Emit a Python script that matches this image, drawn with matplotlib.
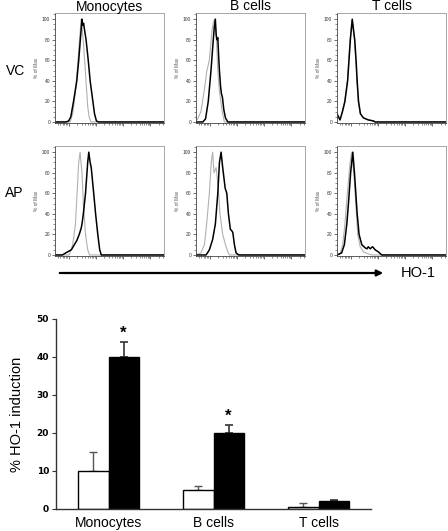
import numpy as np
import matplotlib
matplotlib.use("Agg")
import matplotlib.pyplot as plt
from matplotlib.ticker import FixedLocator, MultipleLocator, NullFormatter

plt.rcParams['font.family'] = ['Liberation Sans', 'DejaVu Sans']

# histogram data: x in log10 fluorescence units, y in % of max
cellTypes = ["Monocytes", "B cells", "T cells"]
treatments = ["VC", "AP"]

monoVcBlackX = [-0.5, -0.1, 0.0, 0.08, 0.18, 0.30, 0.37, 0.43, 0.49, 0.52, 0.55, 0.57, 0.64, 0.72, 0.79, 0.89, 0.95, 1.02, 1.1, 3.5]
monoVcBlackY = [0, 0, 1, 5, 20, 40, 60, 80, 100, 94, 96, 92, 80, 60, 40, 20, 8, 1, 0, 0]
monoVcGrayX = [-0.5, 0.05, 0.15, 0.25, 0.33, 0.40, 0.46, 0.50, 0.55, 0.60, 0.65, 0.70, 0.76, 0.82, 3.5]
monoVcGrayY = [0, 0, 8, 30, 55, 80, 100, 90, 75, 55, 35, 15, 4, 0, 0]

bVcBlackX = [-0.5, -0.25, -0.15, -0.05, 0.05, 0.12, 0.17, 0.21, 0.24, 0.27, 0.30, 0.33, 0.36, 0.40, 0.43, 0.47, 0.52, 0.58, 0.67, 3.5]
bVcBlackY = [0, 0, 3, 20, 50, 75, 92, 100, 85, 80, 82, 65, 50, 35, 28, 24, 12, 4, 0, 0]
bVcGrayX = [-0.5, -0.44, -0.32, -0.2, -0.1, -0.01, 0.09, 0.14, 0.18, 0.22, 0.26, 0.30, 0.36, 0.46, 0.54, 3.5]
bVcGrayY = [1, 3, 10, 30, 50, 60, 90, 97, 100, 90, 75, 50, 30, 10, 0, 0]

tVcBlackX = [-0.5, -0.39, -0.30, -0.21, -0.11, -0.06, -0.01, 0.06, 0.15, 0.20, 0.24, 0.29, 0.36, 0.47, 0.65, 0.84, 0.90, 3.5]
tVcBlackY = [8, 2, 10, 20, 40, 60, 80, 100, 80, 60, 40, 20, 8, 4, 2, 1, 0, 0]
tVcGrayX = [-0.5, -0.39, -0.31, -0.22, -0.12, -0.07, -0.02, 0.05, 0.14, 0.19, 0.23, 0.28, 0.35, 0.46, 0.64, 0.82, 0.88, 3.5]
tVcGrayY = [7, 2, 10, 20, 40, 60, 80, 99, 80, 60, 40, 20, 8, 4, 2, 1, 0, 0]

monoApBlackX = [-0.5, -0.23, -0.04, 0.1, 0.21, 0.30, 0.39, 0.46, 0.49, 0.54, 0.62, 0.70, 0.74, 0.79, 0.83, 0.92, 0.99, 1.07, 1.14, 1.2, 3.5]
monoApBlackY = [0, 0, 3, 5, 10, 14, 20, 26, 30, 40, 60, 90, 100, 90, 85, 60, 40, 20, 5, 0, 0]
monoApGrayX = [-0.5, 0.02, 0.15, 0.25, 0.31, 0.37, 0.42, 0.49, 0.54, 0.62, 0.70, 0.77, 3.5]
monoApGrayY = [0, 0, 10, 30, 60, 90, 100, 80, 50, 20, 5, 0, 0]

bApBlackX = [-0.5, -0.13, -0.01, 0.11, 0.21, 0.30, 0.36, 0.42, 0.48, 0.57, 0.63, 0.69, 0.76, 0.80, 0.85, 0.91, 0.97, 1.07, 3.5]
bApBlackY = [0, 0, 5, 15, 30, 60, 90, 100, 85, 65, 60, 40, 25, 24, 22, 10, 2, 0, 0]
bApGrayX = [-0.5, -0.32, -0.19, -0.11, -0.01, 0.06, 0.11, 0.16, 0.24, 0.32, 0.38, 0.48, 0.58, 0.67, 0.73, 3.5]
bApGrayY = [0, 2, 10, 30, 60, 90, 100, 80, 85, 65, 40, 20, 10, 3, 0, 0]

tApBlackX = [-0.5, -0.33, -0.23, -0.14, -0.08, 0.0, 0.08, 0.14, 0.19, 0.24, 0.31, 0.41, 0.53, 0.60, 0.65, 0.72, 0.80, 0.84, 0.90, 1.02, 1.14, 3.5]
tApBlackY = [0, 2, 10, 30, 50, 80, 100, 80, 60, 40, 20, 10, 7, 6, 8, 6, 8, 7, 5, 3, 0, 0]
tApGrayX = [-0.5, -0.39, -0.29, -0.21, -0.12, -0.02, 0.04, 0.13, 0.19, 0.26, 0.35, 0.47, 0.65, 0.78, 3.5]
tApGrayY = [0, 1, 10, 30, 60, 90, 100, 75, 50, 20, 8, 3, 1, 0, 0]

histData = {
    ("VC", 0): (monoVcBlackX, monoVcBlackY, monoVcGrayX, monoVcGrayY),
    ("VC", 1): (bVcBlackX, bVcBlackY, bVcGrayX, bVcGrayY),
    ("VC", 2): (tVcBlackX, tVcBlackY, tVcGrayX, tVcGrayY),
    ("AP", 0): (monoApBlackX, monoApBlackY, monoApGrayX, monoApGrayY),
    ("AP", 1): (bApBlackX, bApBlackY, bApGrayX, bApGrayY),
    ("AP", 2): (tApBlackX, tApBlackY, tApGrayX, tApGrayY),
}

# bar chart data
barCategories = ["Monocytes", "B cells", "T cells"]
vcValues = [10, 5, 0.6]
vcErrors = [5, 1, 1.0]
apValues = [40, 20, 2.0]
apErrors = [4, 2, 0.5]
significant = [True, True, False]

W, H = 448, 531
fig = plt.figure(figsize=(W / 100, H / 100), dpi=100)


def pxAxes(left, top, right, bottom):
    return fig.add_axes([left / W, 1 - bottom / H, (right - left) / W, (bottom - top) / H])


colLeft = [55, 196, 337]
colWidth = 109
rowTop = [13, 146]
rowHeight = 110

majorX = [0, 1, 2, 3]
minorX = [d + np.log10(k) for d in [-1, 0, 1, 2, 3] for k in range(2, 10)]
minorX = [m for m in minorX if -0.5 < m < 3.5]

for r, treat in enumerate(treatments):
    for c in range(3):
        ax = pxAxes(colLeft[c], rowTop[r], colLeft[c] + colWidth, rowTop[r] + rowHeight)
        bx, by, gx, gy = histData[(treat, c)]
        ax.plot(gx, gy, color="#b0b0b0", lw=0.8)
        ax.plot(bx, by, color="black", lw=1.1)
        ax.set_xlim(-0.5, 3.5)
        ax.set_ylim(-1, 106)
        ax.xaxis.set_major_locator(FixedLocator(majorX))
        ax.xaxis.set_minor_locator(FixedLocator(minorX))
        ax.xaxis.set_major_formatter(NullFormatter())
        ax.set_yticks([0, 20, 40, 60, 80, 100])
        ax.yaxis.set_minor_locator(MultipleLocator(5))
        ax.tick_params(axis="both", which="major", length=2.5, width=0.5, color="#333333",
                       labelsize=3.5, pad=1, labelcolor="#333333")
        ax.tick_params(axis="both", which="minor", length=1.2, width=0.4, color="#333333")
        ax.set_ylabel("% of Max", fontsize=3.5, color="#555555", labelpad=2)
        for side in ["top", "right"]:
            ax.spines[side].set_color("#999999")
        for side in ["left", "bottom"]:
            ax.spines[side].set_color("#444444")
        for s in ax.spines.values():
            s.set_linewidth(0.6)
        if r == 0:
            fig.text((colLeft[c] + colWidth / 2) / W, 1 - 6.5 / H, cellTypes[c],
                     fontsize=10, ha="center", va="center")

fig.text(16 / W, 1 - 71 / H, "VC", fontsize=10, ha="center", va="center")
fig.text(14 / W, 1 - 193 / H, "AP", fontsize=10, ha="center", va="center")

# HO-1 arrow
fig.add_artist(matplotlib.patches.FancyArrowPatch(
    (57 / W, 1 - 273 / H), (386 / W, 1 - 273 / H), transform=fig.transFigure,
    arrowstyle="-|>", mutation_scale=9, lw=1.6, color="black"))
fig.text(401 / W, 1 - 273 / H, "HO-1", fontsize=10.5, ha="left", va="center")

# bar chart
bax = pxAxes(56, 319, 371, 509)
pos = np.arange(len(barCategories))
bw = 0.286
bax.bar(pos - bw / 2, vcValues, bw, color="white", edgecolor="black", lw=1.0, zorder=2)
bax.bar(pos + bw / 2, apValues, bw, color="black", edgecolor="black", lw=1.0, zorder=2)
bax.errorbar(pos - bw / 2, vcValues, yerr=[np.zeros(3), vcErrors], fmt="none",
             ecolor="#555555", elinewidth=1.0, capsize=3, capthick=1.0, zorder=1)
bax.errorbar(pos + bw / 2, apValues, yerr=[np.zeros(3), apErrors], fmt="none",
             ecolor="#333333", elinewidth=1.2, capsize=3, capthick=1.2, zorder=1)
for i in range(3):
    if significant[i]:
        bax.annotate("*", (pos[i] + bw / 2, apValues[i] + apErrors[i]), xytext=(0, 1),
                     textcoords="offset points", ha="center", va="bottom",
                     fontsize=12, fontweight="bold")
bax.set_xlim(-0.5, 2.5)
bax.set_ylim(0, 50)
bax.set_yticks([0, 10, 20, 30, 40, 50])
bax.set_xticks(pos)
bax.set_xticklabels(barCategories, fontsize=10)
bax.tick_params(axis="x", length=0, pad=5)
bax.tick_params(axis="y", length=3, width=0.8, color="#333333", pad=2)
for lab in bax.get_yticklabels():
    lab.set_fontfamily("DejaVu Sans")
    lab.set_fontweight("bold")
    lab.set_fontsize(6.5)
bax.set_ylabel("% HO-1 induction", fontsize=10.5, labelpad=9)
bax.spines["top"].set_visible(False)
bax.spines["right"].set_visible(False)
for side in ["left", "bottom"]:
    bax.spines[side].set_color("#333333")
    bax.spines[side].set_linewidth(1.0)

fig.savefig("out.png", dpi=100)
